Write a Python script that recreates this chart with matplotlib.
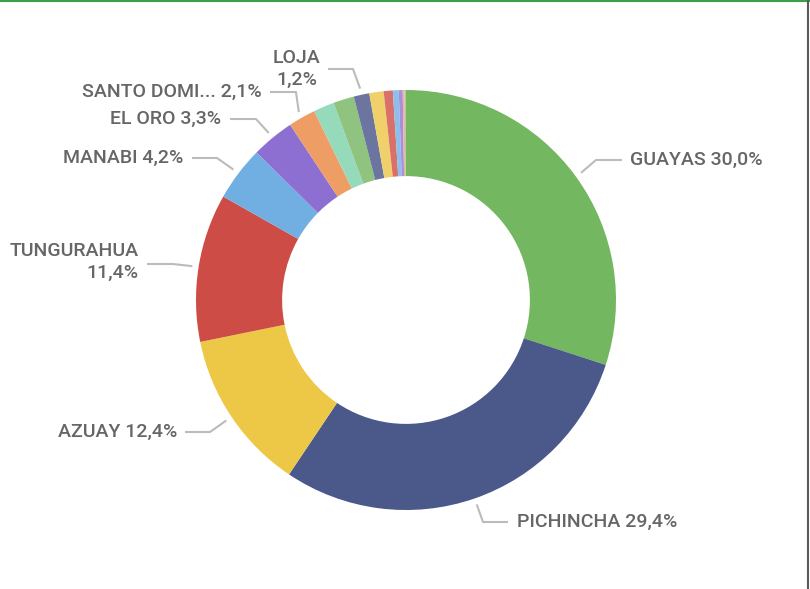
"""
Donut chart: share by province (Ecuador).
"""
import matplotlib
matplotlib.use("Agg")
import matplotlib.pyplot as plt
import numpy as np
from matplotlib.lines import Line2D

# data
provinces = ["GUAYAS", "PICHINCHA", "AZUAY", "TUNGURAHUA", "MANABI", "EL ORO",
             "SANTO DOMINGO", "IMBABURA", "CHIMBORAZO", "LOJA", "COTOPAXI",
             "ESMERALDAS", "LOS RIOS", "CAÑAR", "SANTA ELENA", "OTROS"]
shares = [30.0, 29.4, 12.4, 11.4, 4.2, 3.3, 2.1, 1.6, 1.6, 1.2, 1.1,
          0.7, 0.45, 0.3, 0.15, 0.1]
colors = ["#73B761", "#4A588A", "#ECC846", "#CD4C46", "#71AFE2", "#8D6FD1",
          "#EE9E64", "#95DABB", "#8FC37F", "#6B759F", "#F0D06A",
          "#D9706A", "#8CC0EA", "#A78FE0", "#F1B38A", "#B5C9A8"]
label_text = {
    "GUAYAS": "GUAYAS 30,0%",
    "PICHINCHA": "PICHINCHA 29,4%",
    "AZUAY": "AZUAY 12,4%",
    "TUNGURAHUA": "TUNGURAHUA\n11,4%",
    "MANABI": "MANABI 4,2%",
    "EL ORO": "EL ORO 3,3%",
    "SANTO DOMINGO": "SANTO DOMI... 2,1%",
    "LOJA": "LOJA\n1,2%",
}

W, H = 810, 589
CX, CY, R = 406, 300, 210


def px(x, y):
    # pixel position (from top-left) -> data units
    return (x - CX) / R, (CY - y) / R


# layout of labels: elbow point, line end, text anchor, alignment
layout = {
    "GUAYAS": ((596, 160), (622, 160), (630, 160), "left"),
    "PICHINCHA": ((483, 522), (508, 522), (517, 522), "left"),
    "AZUAY": ((210, 432), (185, 432), (177, 432), "right"),
    "TUNGURAHUA": ((173, 264), (147, 264), (139, 262), "right"),
    "MANABI": ((217, 158), (192, 158), (183, 158), "right"),
    "EL ORO": ((256, 119), (230, 119), (221, 119), "right"),
    "SANTO DOMINGO": ((296, 92), (270, 92), (262, 92), "right"),
    "LOJA": ((353, 69), (328, 69), (297, 69), "center"),
}

fig = plt.figure(figsize=(W / 100, H / 100), dpi=100)
ax = fig.add_axes([0, 0, 1, 1])
ax.axis("off")

wedges, _ = ax.pie(shares, colors=colors, startangle=90, counterclock=False,
                   radius=1.0, wedgeprops=dict(width=0.41, linewidth=0))
ax.set_aspect("auto")
ax.set_xlim(-CX / R, (W - CX) / R)
ax.set_ylim(-(H - CY) / R, CY / R)

text_color = "#666666"
line_color = "#BBBBBB"
for w, name in zip(wedges, provinces):
    if name not in label_text:
        continue
    ang = np.deg2rad((w.theta1 + w.theta2) / 2)
    start = (1.03 * np.cos(ang), 1.03 * np.sin(ang))
    elbow, end, tpos, ha = layout[name]
    ex, ey = px(*elbow)
    lx, ly = px(*end)
    ax.plot([start[0], ex, lx], [start[1], ey, ly], color=line_color,
            lw=1.5, solid_capstyle="butt")
    tx, ty = px(*tpos)
    ax.text(tx, ty, label_text[name], ha=ha, va="center", color=text_color,
            fontsize=14, family="Roboto", fontweight="medium",
            linespacing=1.3, multialignment=ha)

# frame lines of the visual
fig.add_artist(Line2D([0, 1], [0.998, 0.998], transform=fig.transFigure,
                      color="#3A9F48", lw=1.5))
fig.add_artist(Line2D([0.9975, 0.9975], [0, 1], transform=fig.transFigure,
                      color="#5A5A5A", lw=1.5))

fig.savefig("out.png", dpi=100)
